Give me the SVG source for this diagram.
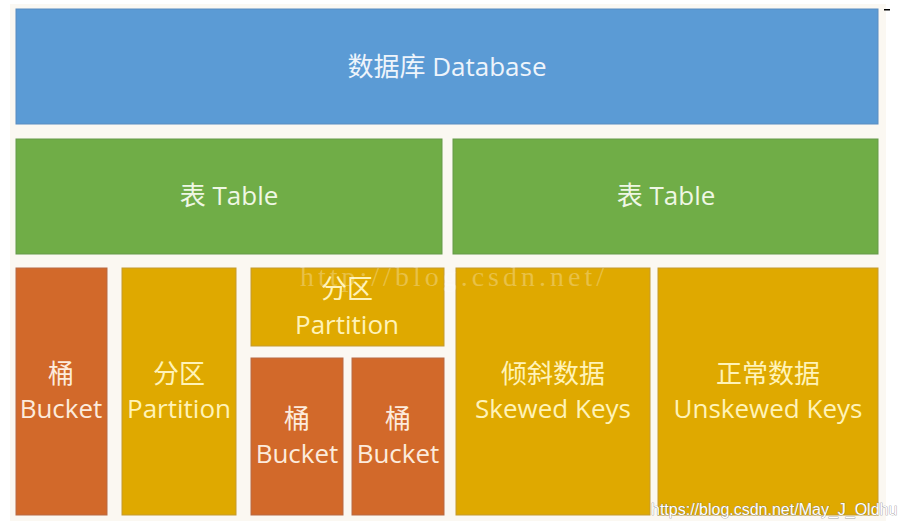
<svg xmlns="http://www.w3.org/2000/svg" width="903" height="525" viewBox="0 0 903 525">
<style>
.t{font-family:"Open Sans","Noto Sans","Noto Sans CJK SC",sans-serif;font-size:26px;text-anchor:middle}
.blue{fill:#5B9BD5;stroke:#5A8CC0;stroke-width:1}
.green{fill:#70AD47;stroke:#66994A;stroke-width:1}
.orange{fill:#D2692A;stroke:#B86A45;stroke-width:1}
.gold{fill:#DFA900;stroke:#C49A30;stroke-width:1}
.tb{fill:#EEF4FB}
.tg{fill:#EEF7E4}
.to{fill:#FCEBDC}
.ty{fill:#FFF3B8}
</style>
<rect width="903" height="525" fill="#FFFFFF"/>
<rect x="10" y="4" width="876" height="517" fill="#FBF8F2"/>
<g id="database">
<rect class="blue" x="16" y="9" width="862" height="115"/>
<text class="t tb" x="447" y="76">数据库 Database</text>
</g>
<g id="table1">
<rect class="green" x="16" y="139" width="426" height="115"/>
<text class="t tg" x="229" y="205">表 Table</text>
</g>
<g id="table2">
<rect class="green" x="453" y="139" width="425" height="115"/>
<text class="t tg" x="666" y="205">表 Table</text>
</g>
<g id="bucket1">
<rect class="orange" x="16" y="268" width="91" height="247"/>
<text class="t to" x="61" y="383">桶</text>
<text class="t to" x="61" y="418">Bucket</text>
</g>
<g id="partition1">
<rect class="gold" x="122" y="268" width="114" height="247"/>
<text class="t ty" x="179" y="383">分区</text>
<text class="t ty" x="179" y="418">Partition</text>
</g>
<g id="partition2">
<rect class="gold" x="251" y="268" width="193" height="78"/>
<text class="t ty" x="347" y="298">分区</text>
<text class="t ty" x="347" y="334">Partition</text>
</g>
<g id="bucket2">
<rect class="orange" x="251" y="358" width="92" height="157"/>
<text class="t to" x="297" y="428">桶</text>
<text class="t to" x="297" y="463">Bucket</text>
</g>
<g id="bucket3">
<rect class="orange" x="352" y="358" width="92" height="157"/>
<text class="t to" x="398" y="428">桶</text>
<text class="t to" x="398" y="463">Bucket</text>
</g>
<g id="skewed">
<rect class="gold" x="456" y="268" width="194" height="247"/>
<text class="t ty" x="553" y="383">倾斜数据</text>
<text class="t ty" x="553" y="418">Skewed Keys</text>
</g>
<g id="unskewed">
<rect class="gold" x="658" y="268" width="220" height="247"/>
<text class="t ty" x="768" y="383">正常数据</text>
<text class="t ty" x="768" y="418">Unskewed Keys</text>
</g>
<g id="connectors"></g>
<text x="300" y="286" font-family="'Liberation Serif',serif" font-size="28" fill="#FFFFFF" fill-opacity="0.28" letter-spacing="4">http://blog.csdn.net/</text>
<text x="651" y="515" font-family="'Liberation Sans',Arial,sans-serif" font-size="16" fill="#FFFFFF" stroke="#7A7A7A" stroke-width="0.6" paint-order="stroke">https://blog.csdn.net/May_J_Oldhu</text>
<rect x="884" y="9" width="6" height="1.5" fill="#000000"/>
</svg>
